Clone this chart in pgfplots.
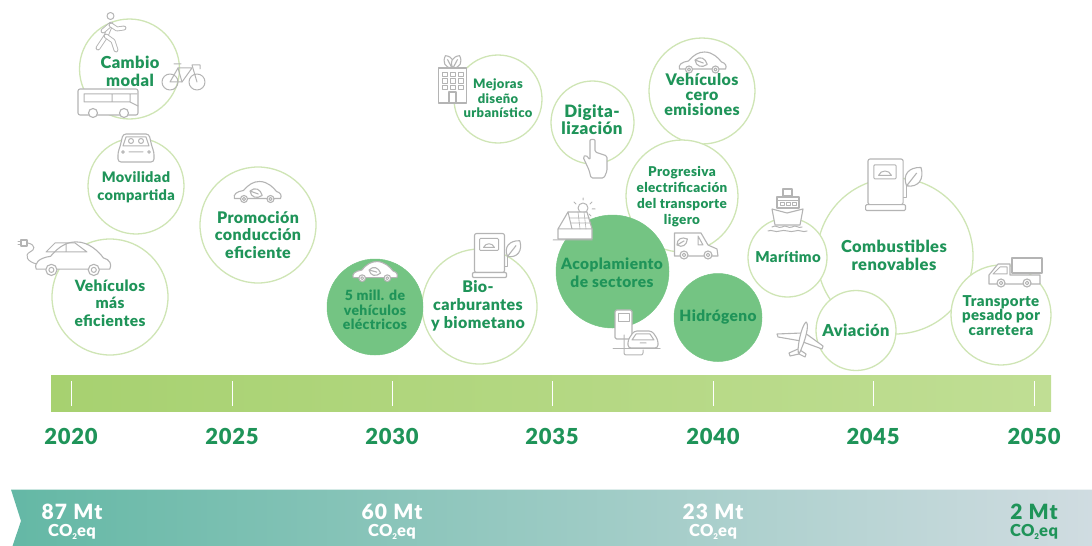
\documentclass[border=0pt]{standalone}
\usepackage{pgfplots}
\pgfplotsset{compat=1.18}
\usepackage{fontspec}
\setmainfont{Lato}
\newfontfamily\lb[LetterSpace=2.5]{Lato Black}
\newfontfamily\lsp[LetterSpace=3]{Lato Black}
\newfontfamily\lspb[LetterSpace=6]{Lato Black}
\definecolor{tg}{HTML}{1F9459}
\definecolor{rim}{HTML}{CFE5B5}
\definecolor{fillg}{HTML}{74C483}
\definecolor{ig}{HTML}{B4B4B4}
\definecolor{barl}{RGB}{167,209,112}
\definecolor{barr}{RGB}{192,222,148}
\definecolor{bandl}{RGB}{100,184,165}
\definecolor{bandm}{RGB}{156,198,190}
\definecolor{bandr}{RGB}{208,220,225}
% bubbles and labels in pixel coordinates of the axis
\newcommand\bub[3]{\addplot[only marks,mark=*,mark size=#3,mark options={draw=rim,fill=white,line width=1.3pt}] coordinates {(#1,#2)};}
\newcommand\bubf[3]{\addplot[only marks,mark=*,mark size=#3,mark options={draw=fillg,fill=fillg,line width=0.5pt}] coordinates {(#1,#2)};}
\newcommand\lab[5]{\node[align=center,text=tg,inner sep=0pt,font=\fontsize{#3}{#4}\selectfont\lb] at (#1,#2) {#5};}
\newcommand\tk[1]{\addplot[white,line width=0.8pt] coordinates {(#1,381) (#1,406)};}
\newcommand\yr[2]{\node[text=tg,inner sep=0pt,font=\fontsize{22}{23}\selectfont\lsp] at (axis cs:#1,436.5) {#2};}
\newcommand\mt[3]{\node[text=#3,inner sep=0pt,font=\fontsize{21}{21}\selectfont\lspb] at (axis cs:#1,512) {#2};
 \node[text=#3,inner sep=0pt,font=\fontsize{16.5}{17}\selectfont\lsp] at (axis cs:#1,532) {CO\raisebox{-2.5pt}{\fontsize{8}{8}\selectfont 2}eq};}
% icons
\tikzset{ic/.style={draw=ig,line width=1.1pt,fill=white,line join=round},
 nf/.style={draw=ig,line width=1pt,line join=round,line cap=round},
 tube/.style={draw=ig,line width=0.9pt,double=white,double distance=3pt,line cap=round,line join=round}}
\newcommand\leaf[4]{\draw[ic,shift={(#1,#2)},rotate=#3] (0,0) .. controls (#4*.25,-#4*.45) and (#4*.7,-#4*.42) .. (#4,0) .. controls (#4*.7,#4*.42) and (#4*.25,#4*.45) .. (0,0) -- (#4*.7,0);}
\newcommand\wheel[3]{\draw[ic] (#1,#2) circle (#3); \draw[nf] (#1,#2) circle (#3*.45);}
\newcommand\sidecar[4]{% cx, bottom y, scale, fill
 \begin{scope}[shift={(#1,#2)},scale=#3]
 \draw[ic,fill=#4] (-23,-4) .. controls (-24.5,-8) and (-21,-11) .. (-14,-12) .. controls (-9,-18) and (-4,-21) .. (2,-21) .. controls (10,-21) and (16,-15) .. (19,-11) .. controls (23,-10) and (24.5,-7) .. (23,-4) -- cycle;
 \wheel{-13.5}{-3.5}{3.5}\wheel{13}{-3.5}{3.5}
 \end{scope}}
\newcommand\pump[3]{%
 \begin{scope}[shift={(#1,#2)},scale=#3]
 \draw[nf] (28,33) -- (33,33) -- (33,23);
 \draw[ic,rounded corners=2] (0,0) rectangle (30,39);
 \draw[ic,rounded corners=1] (-2,39) rectangle (32,44);
 \draw[nf,rounded corners=1] (5,5) rectangle (24,17);
 \draw[nf] (9,14) .. controls (11,9) and (18,9) .. (20,14) -- cycle;
 \leaf{33}{23}{52}{20}
 \end{scope}}
\begin{document}
\begin{tikzpicture}
\path[use as bounding box] (0,0) rectangle (1092pt,546pt);
\begin{axis}[anchor=south west,at={(0,0)},width=1092pt,height=546pt,scale only axis,
  xmin=0,xmax=1092,ymin=0,ymax=546,y dir=reverse,hide axis,clip=false,enlargelimits=false]
% time bar and emission band
\addplot[draw=none,left color=barl,right color=barr] coordinates {(51,375) (1051,375) (1051,411.7) (51,411.7)} -- cycle;
\addplot[draw=none,left color=bandl,middle color=bandm,right color=bandr] coordinates {(11,489.5) (1092,489.5) (1092,546) (12.5,546) (21,521)} -- cycle;
\tk{71}\tk{232}\tk{392}\tk{552}\tk{713}\tk{873}\tk{1034}
\yr{71}{2020}\yr{232}{2025}\yr{392}{2030}\yr{552}{2035}\yr{713}{2040}\yr{873}{2045}\yr{1034}{2050}
\mt{72}{87 Mt}{white}\mt{392}{60 Mt}{white}\mt{713}{23 Mt}{white}\mt{1034}{2 Mt}{tg}
% bubbles
\bub{129.5}{69}{50}
\bub{136}{186}{48}
\bub{258}{225}{58}
\bub{110}{297}{58}
\bub{498}{99}{44}
\bub{592.5}{122.5}{41.5}
\bub{702}{91}{53}
\bub{682}{196}{56}
\bub{479.5}{306.5}{57.5}
\bubf{375}{307}{48}
\bubf{612.5}{271.5}{56.5}
\bubf{718}{317.5}{44}
\bub{895}{256}{78}
\bub{787.5}{257.5}{39.5}
\bub{856}{330.5}{40}
\bub{1001}{315}{50}
\end{axis}
\begin{scope}[x=1pt,y=-1pt,yshift=546pt]
% walker
\draw[nf] (110.5,16) circle (3.5);
\draw[tube] (111,24) -- (106,36) -- (98,48);
\draw[tube] (106,36) -- (113,41) -- (116,50);
\draw[tube] (110,25) -- (103,31);
\draw[tube] (111,25) -- (117,29) -- (124,28);
% bicycle
\draw[nf] (170,82) circle (8); \draw[nf] (197,82) circle (8);
\draw[nf] (170,82) -- (178,68) -- (192,68) -- (182,82) -- (170,82);
\draw[nf] (178,68) -- (182,82) (192,65) -- (197,82) (174,64) -- (181,64) (192,65) -- (200,65) -- (200,69);
% bus
\draw[ic,rounded corners=2] (78,89) rectangle (138,115);
\draw[nf] (84,94) -- (137,94) (84,102) -- (130,102) (84,94) -- (84,102) (112,94) -- (112,102) (130,94) -- (130,102) -- (138,106);
\draw[ic] (93,113) circle (4.5); \draw[ic] (124,113) circle (4.5);
% front car
\draw[ic,rounded corners=3] (120,147) -- (123,134) -- (149,134) -- (152,147) -- (154,152) -- (154,162) -- (118,162) -- (118,152) -- cycle;
\draw[nf] (123,146) -- (126,137) -- (146,137) -- (149,146) -- cycle;
\draw[nf] (131,141) circle (2.5) (141,141) circle (2.5) (129,152) -- (143,152) (123,152) circle (1.3) (149,152) circle (1.3);
% eco side cars
\sidecar{257.5}{202.5}{1}{white}
\leaf{250}{191}{-20}{13}
\sidecar{375}{281.5}{0.95}{white}
\leaf{369}{270}{-15}{12}
\sidecar{702.5}{73}{1}{white}
\leaf{695}{60}{-20}{13}
% EV with plug
\draw[nf] (28,243) .. controls (36,245) and (35,250) .. (30,252) .. controls (24,255) and (27,262) .. (37,264);
\draw[ic] (21,240) rectangle (27,246); \draw[nf] (21,241.5) -- (18,241.5) (21,244.5) -- (18,244.5);
\sidecar{73}{275.5}{1.6}{white}
\draw[nf] (46,252) -- (55,243) -- (66,243) -- (66,252) -- cycle (66,243) -- (75,243) -- (87,252) -- (66,252);
% building
\leaf{452}{68}{118}{14}\leaf{453}{68}{62}{14}
\draw[ic] (438.5,68) rectangle (466.5,103);
\foreach \i in {0,1,2} \foreach \j in {0,1,2} {\draw[nf,line width=.7pt] (442+8*\i,72+6.5*\j) rectangle ++(5,4.5);}
\draw[ic] (449,92) rectangle (456,103);
% hand
\draw[ic,rounded corners=1.5] (590,160) -- (590,142) .. controls (590,139) and (595,139) .. (595,142) -- (595,152) -- (607,156) -- (607,171) -- (604,178) -- (591,178) -- (589,170) -- (583,157) -- (586,155) -- cycle;
% house and sun
\draw[nf] (583,208) circle (5);
\draw[nf] (583,198) -- (583,200) (592,202) -- (590,204) (595,209) -- (592,209) (574,202) -- (576,204) (591,216) -- (589,214);
\draw[ic] (558,239) -- (558,229) -- (568,212) -- (587,212) -- (592,229) -- (592,239) -- cycle;
\draw[nf] (553,240) -- (592,240) (558,229) -- (592,229) (568,212) -- (572,229);
\draw[nf,line width=.6pt] (570,218) -- (590,218) (571,223) -- (591,223) (578,212) -- (580,229) (584,212) -- (586,229);
% charger and car
\draw[ic,rounded corners=1.5] (615,310) rectangle (632,339);
\draw[nf] (618,314) rectangle (629,322) (613,349) -- (660,349);
\draw[nf,rounded corners=2] (624,335) -- (624,355) -- (643,355) -- (643,350);
\draw[ic,rounded corners=3] (628,348) -- (628,340) -- (634,331) -- (652,331) -- (658,340) -- (658,348) -- cycle;
\draw[nf] (636,334) -- (650,334) -- (654,340) -- (632,340) -- cycle (640,343) -- (646,343);
% pumps
\pump{474.5}{233.5}{1}
\pump{868}{159}{1.17}
% van
\draw[ic] (674.5,233) -- (701,233) -- (708,245) -- (717,249) -- (718,256) -- (674.5,256) -- cycle;
\draw[nf] (698,236) -- (703,245) -- (698,245) -- cycle;
\wheel{684}{255}{4}\wheel{708}{255}{4}
\leaf{677}{245}{30}{12}
% ship
\draw[ic] (783,189) rectangle (792,196);
\draw[ic] (777,197) rectangle (799,208);
\draw[nf] (777,201) -- (799,201) (780,203) rectangle (784,206) (786,203) rectangle (790,206) (792,203) rectangle (796,206);
\draw[ic] (772,209) -- (787,213) -- (803,209) -- (800,225) -- (775,225) -- cycle;
\draw[nf] (772,227) .. controls (776,224) and (778,229) .. (782,227) .. controls (786,224) and (788,229) .. (792,227) .. controls (796,224) and (798,229) .. (802,227);
\draw[nf] (768,231) .. controls (772,229) and (775,233) .. (780,231) .. controls (785,229) and (790,233) .. (795,231) .. controls (799,229) and (803,233) .. (807,231);
% plane
\draw[ic] (802,333) -- (777,334) -- (778,337) -- (801,341) -- cycle;
\draw[ic] (805,333) -- (823,346) -- (822,349) -- (803,342) -- cycle;
\draw[ic] (798,349) -- (789,353) -- (790,356) -- (799,354) -- (805,357) -- (806,354) -- (800,350);
\draw[ic] (806,322) .. controls (810,324) and (805,342) .. (799,354) .. controls (796,352) and (801,326) .. (806,322) -- cycle;
% truck
\draw[ic] (1012,258) rectangle (1042,273);
\draw[ic] (989,284) -- (989,275) -- (998,264) -- (1010,264) -- (1010,275) -- (1040,275) -- (1040,284) -- cycle;
\draw[nf] (993,274) -- (1000,267) -- (1007,267) -- (1007,274) -- cycle;
\wheel{1001}{283}{4}\wheel{1027}{283}{4}
% labels
\lab{130}{71}{16.5}{18}{Cambio\\modal}
\lab{136}{187}{14.5}{18}{Movilidad\\compartida}
\lab{258}{235}{16}{17.5}{Promoción\\conducción\\eficiente}
\lab{110}{303}{15.5}{17.5}{Vehículos\\más\\eficientes}
\lab{375}{310}{14}{14.5}{5 mill. de\\vehículos\\eléctricos}
\lab{478}{306}{16}{18}{Bio-\\carburantes\\y biometano}
\lab{498}{98.5}{13}{14.5}{Mejoras\\diseño\\urbanístico}
\lab{592}{119.5}{17}{15}{Digita-\\lización}
\lab{612}{273}{15.5}{18}{Acoplamiento\\de sectores}
\lab{702}{95}{16}{15}{Vehículos\\cero\\emisiones}
\lab{682}{197}{13.5}{16}{Progresiva\\electrificación\\del transporte\\ligero}
\lab{718}{317}{15.5}{16}{Hidrógeno}
\lab{788}{257}{15}{16}{Marítimo}
\lab{894}{255.5}{16.5}{17.5}{Combustibles\\renovables}
\lab{856}{330}{16.5}{17}{Aviación}
\lab{1001}{315.5}{15}{14.5}{Transporte\\pesado por\\carretera}
\end{scope}
\end{tikzpicture}
\end{document}
